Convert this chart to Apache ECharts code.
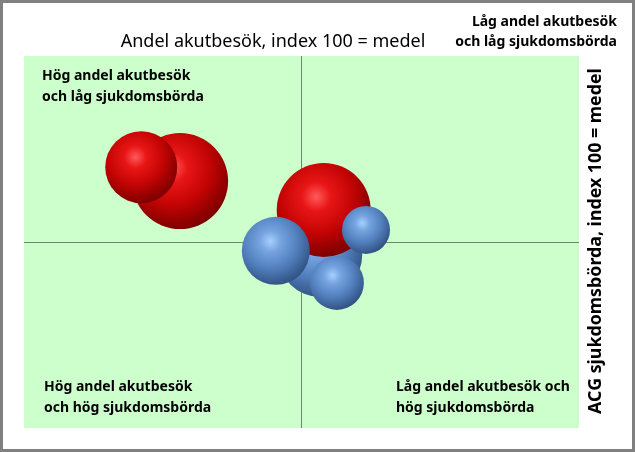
<!DOCTYPE html>
<html>
<head>
<meta charset="utf-8">
<script src="https://cdn.jsdelivr.net/npm/echarts@6/dist/echarts.min.js"></script>
<style>
    html, body { margin: 0; padding: 0; background: #fff; }
    #chart { width: 635px; height: 452px; }
</style>
</head>
<body>
<div id="chart"></div>
<script>
// Bubbles in drawing order (later ones on top)
const andelAkut = [117.5, 123.1, 97.3, 96.8, 103.7, 90.7, 94.9];   // x, index 100 = medel
const acgIndex = [86.9, 83.9, 102.8, 93.1, 101.9, 97.4, 108.8];    // y, index 100 = medel
const storlek = [576, 324, 441, 552, 289, 144, 182];               // bubble size value
const grupp = ['röd', 'röd', 'blå', 'röd', 'blå', 'blå', 'blå'];

const FONT = '"Noto Sans", "DejaVu Sans", sans-serif';

function sphere(stops) {
    return new echarts.graphic.RadialGradient(0.42, 0.36, 0.7, stops);
}

const RED = [
    { offset: 0, color: '#ff5a5a' },
    { offset: 0.22, color: '#e81616' },
    { offset: 0.55, color: '#c40404' },
    { offset: 0.82, color: '#900000' },
    { offset: 1, color: '#740000' }
];
const BLUE = [
    { offset: 0, color: '#a8d0ff' },
    { offset: 0.22, color: '#76a4e0' },
    { offset: 0.55, color: '#5482c0' },
    { offset: 0.85, color: '#385c90' },
    { offset: 1, color: '#2c4a76' }
];

const points = andelAkut.map((x, i) => ({
    value: [x, acgIndex[i], storlek[i]],
    itemStyle: { color: sphere(grupp[i] === 'röd' ? RED : BLUE), opacity: 1 }
}));

const chart = echarts.init(document.getElementById('chart'), null, { renderer: 'canvas' });

function label(x, y, lines, align, lh) {
    return {
        type: 'text',
        x: x,
        y: y,
        style: {
            text: lines.join('\n'),
            font: 'bold 14px ' + FONT,
            fill: '#000',
            textAlign: align || 'left',
            lineHeight: lh || 21
        }
    };
}

const option = {
    animation: false,
    grid: {
        left: 24,
        top: 56,
        width: 555,
        height: 372,
        show: true,
        backgroundColor: '#ccffcc',
        borderWidth: 0
    },
    xAxis: {
        type: 'value',
        min: 60,
        max: 140,
        inverse: true,
        axisLine: { show: false },
        axisTick: { show: false },
        axisLabel: { show: false },
        splitLine: { show: false }
    },
    yAxis: {
        type: 'value',
        min: 60,
        max: 140,
        inverse: true,
        axisLine: { show: false },
        axisTick: { show: false },
        axisLabel: { show: false },
        splitLine: { show: false }
    },
    series: [{
        type: 'scatter',
        data: points,
        symbolSize: function(val) {
            return Math.sqrt(val[2]) * 4;
        },
        markLine: {
            silent: true,
            symbol: 'none',
            label: { show: false },
            lineStyle: { color: '#6f876f', width: 1, type: 'solid' },
            data: [{ xAxis: 100 }, { yAxis: 100 }],
            z: 1
        },
        z: 3
    }],
    graphic: [
        {
            type: 'rect',
            shape: { x: 1.5, y: 1.5, width: 632, height: 449 },
            style: { fill: null, stroke: '#808080', lineWidth: 3 },
            silent: true
        },
        {
            type: 'text',
            x: 273,
            y: 42,
            style: {
                text: 'Andel akutbesök, index 100 = medel',
                font: '18px ' + FONT,
                fill: '#000',
                textAlign: 'center',
                textVerticalAlign: 'middle'
            }
        },
        label(617, 12, ['Låg andel akutbesök', 'och låg sjukdomsbörda'], 'right', 20),
        label(42, 66, ['Hög andel akutbesök', 'och låg sjukdomsbörda']),
        label(44, 377, ['Hög andel akutbesök', 'och hög sjukdomsbörda']),
        label(396, 377, ['Låg andel akutbesök och', 'hög sjukdomsbörda']),
        {
            type: 'text',
            x: 596,
            y: 241,
            rotation: Math.PI / 2,
            style: {
                text: 'ACG sjukdomsbörda, index 100 = medel',
                font: 'bold 17.8px ' + FONT,
                fill: '#000',
                textAlign: 'center',
                textVerticalAlign: 'middle'
            }
        }
    ]
};

chart.setOption(option);
</script>
</body>
</html>
